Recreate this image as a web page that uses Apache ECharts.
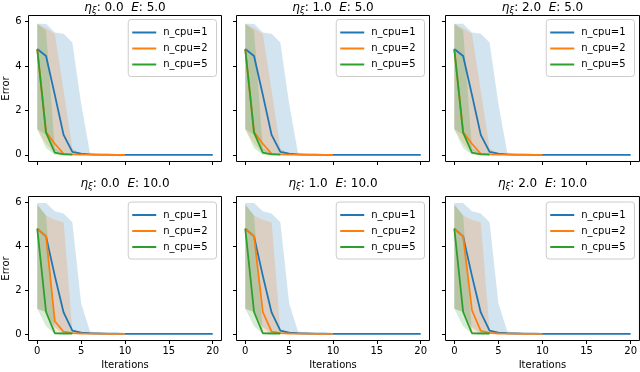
<!DOCTYPE html>
<html>
<head>
<meta charset="utf-8">
<script src="https://cdn.jsdelivr.net/npm/echarts@6/dist/echarts.min.js"></script>
<style>
html, body { margin: 0; padding: 0; background: #fff; }
#main { width: 640px; height: 372px; }
</style>
</head>
<body>
<div id="main"></div>
<script>
var iterations = [0, 1, 2, 3, 4, 5, 6, 7, 8, 9, 10, 11, 12, 13, 14, 15, 16, 17, 18, 19, 20];
var xTicks = [0, 5, 10, 15, 20];
var yTicks = [0, 2, 4, 6];
var etaLabels = ['0.0', '1.0', '2.0'];
var eLabels = ['5.0', '10.0'];
var seriesNames = ['n_cpu=1', 'n_cpu=2', 'n_cpu=5'];

// E = 5.0 (top row)
var blueMeanE5 = [4.76, 4.45, 2.7, 0.9, 0.13, 0.05, 0.02, 0.01, 0.01, 0, 0, 0, 0, 0, 0, 0, 0, 0, 0, 0, 0];
var blueHiE5 = [5.9, 5.9, 5.5, 5.45, 5.05, 2.3, 0.1, 0.05, 0.03, 0.02, 0.01, 0, 0, 0, 0, 0, 0, 0, 0, 0, 0];
var blueLoE5 = [1.15, 0.9, 0.2, 0, 0, 0, 0, 0, 0, 0, 0, 0, 0, 0, 0, 0, 0, 0, 0, 0, 0];
var orangeMeanE5 = [4.76, 1.02, 0.5, 0.05, 0.02, 0.01, 0.01, 0, 0, 0, 0];
var orangeHiE5 = [5.9, 5.7, 5.45, 2.9, 0.3, 0.05, 0.02, 0.01, 0, 0, 0];
var orangeLoE5 = [1.15, 0.5, 0.05, 0, 0, 0, 0, 0, 0, 0, 0];
var greenMeanE5 = [4.76, 1.0, 0.1, 0.02, 0.01];
var greenHiE5 = [5.9, 5.6, 0.3, 0.05, 0.02];
var greenLoE5 = [1.15, 0.3, 0, 0, 0];

// E = 10.0 (bottom row)
var blueMeanE10 = [4.8, 4.45, 2.65, 0.98, 0.15, 0.06, 0.03, 0.02, 0.01, 0.01, 0, 0, 0, 0, 0, 0, 0, 0, 0, 0, 0];
var blueHiE10 = [5.97, 5.97, 5.6, 5.5, 5.1, 1.4, 0.12, 0.05, 0.03, 0.02, 0.01, 0, 0, 0, 0, 0, 0, 0, 0, 0, 0];
var blueLoE10 = [1.15, 1.0, 0.3, 0, 0, 0, 0, 0, 0, 0, 0, 0, 0, 0, 0, 0, 0, 0, 0, 0, 0];
var orangeMeanE10Eta0 = [4.8, 4.45, 0.58, 0.1, 0.04, 0.02, 0.01, 0.01, 0, 0, 0];
var orangeMeanE10Eta1 = [4.8, 4.45, 1.0, 0.1, 0.04, 0.02, 0.01, 0.01, 0, 0, 0];
var orangeMeanE10Eta2 = [4.8, 4.45, 1.08, 0.14, 0.05, 0.02, 0.01, 0.01, 0, 0, 0];
var orangeHiE10 = [5.9, 5.4, 5.2, 5.1, 0.15, 0.05, 0.02, 0.01, 0, 0, 0];
var orangeLoE10 = [1.15, 1.0, 0.1, 0.02, 0, 0, 0, 0, 0, 0, 0];
var greenMeanE10 = [4.8, 1.0, 0.03, 0.02, 0.02];
var greenHiE10 = [5.9, 5.4, 0.1, 0.05, 0.03];
var greenLoE10 = [1.15, 0.35, 0, 0, 0];

var colors = ['#1f77b4', '#ff7f0e', '#2ca02c'];
var bandColors = ['rgba(31,119,180,0.2)', 'rgba(255,127,14,0.2)', 'rgba(44,160,44,0.2)'];
var font = 'DejaVu Sans';

var gridLeft = [28.5, 236.5, 445.5];
var gridWidth = [193, 193, 194];
var gridTop = [15.5, 196.5];
var gridHeight = [146, 144];
var titleY = [7.5, 183.5];
var legendTop = [19.5, 202];

function panelData(r, c) {
    if (r == 0) {
        return {
            mean: [blueMeanE5, orangeMeanE5, greenMeanE5],
            hi: [blueHiE5, orangeHiE5, greenHiE5],
            lo: [blueLoE5, orangeLoE5, greenLoE5]
        };
    }
    var orange = [orangeMeanE10Eta0, orangeMeanE10Eta1, orangeMeanE10Eta2][c];
    return {
        mean: [blueMeanE10, orange, greenMeanE10],
        hi: [blueHiE10, orangeHiE10, greenHiE10],
        lo: [blueLoE10, orangeLoE10, greenLoE10]
    };
}

function pairs(vals) {
    return vals.map(function (v, i) { return [iterations[i], v]; });
}

// fill_between: one polygon from the upper edge and the reversed lower edge
function bandRenderer(lo, hi, color) {
    return function (params, api) {
        if (params.dataIndex !== 0) return;
        var upper = [], lower = [];
        for (var i = 0; i < hi.length; i++) {
            upper.push(api.coord([iterations[i], hi[i]]));
            lower.unshift(api.coord([iterations[i], lo[i]]));
        }
        return {
            type: 'polygon',
            shape: { points: upper.concat(lower) },
            style: { fill: color },
            silent: true
        };
    };
}

var myChart = echarts.init(document.getElementById('main'));

var grids = [], xAxes = [], yAxes = [], series = [], legends = [], titles = [];

for (var r = 0; r < 2; r++) {
    for (var c = 0; c < 3; c++) {
        var p = r * 3 + c;
        var d = panelData(r, c);
        var gx = gridLeft[c], gw = gridWidth[c];

        grids.push({
            left: gx, top: gridTop[r], width: gw, height: gridHeight[r],
            show: true, borderColor: '#000', borderWidth: 1, backgroundColor: 'transparent',
            containLabel: false
        });

        xAxes.push({
            type: 'value', gridIndex: p, min: -1, max: 21,
            splitLine: { show: false },
            axisLine: { show: false, onZero: false },
            axisTick: { show: true, inside: false, length: 3.5, customValues: xTicks, lineStyle: { color: '#000', width: 1 } },
            axisLabel: { show: r == 1, customValues: xTicks, fontFamily: font, fontSize: 10, color: '#000', margin: 6 },
            name: r == 1 ? 'Iterations' : '',
            nameLocation: 'middle', nameGap: 20,
            nameTextStyle: { fontFamily: font, fontSize: 10, color: '#000' }
        });

        yAxes.push({
            type: 'value', gridIndex: p, min: -0.3, max: 6.27,
            splitLine: { show: false },
            axisLine: { show: false, onZero: false },
            axisTick: { show: true, inside: false, length: 3.5, customValues: yTicks, lineStyle: { color: '#000', width: 1 } },
            axisLabel: { show: c == 0, customValues: yTicks, fontFamily: font, fontSize: 10, color: '#000', margin: 7 },
            name: c == 0 ? 'Error' : '',
            nameLocation: 'middle', nameGap: 16, nameRotate: 90,
            nameTextStyle: { fontFamily: font, fontSize: 10, color: '#000' }
        });

        for (var k = 0; k < 3; k++) {
            var lo = d.lo[k], hi = d.hi[k];
            series.push({
                name: 'band' + k, type: 'custom', coordinateSystem: 'cartesian2d',
                xAxisIndex: p, yAxisIndex: p,
                data: hi.map(function (v, i) { return [iterations[i], lo[i], v]; }),
                encode: { x: 0, y: [1, 2] },
                renderItem: bandRenderer(lo, hi, bandColors[k]),
                silent: true, z: 1
            });
        }

        // later n_cpu lines sit on top, as in the original
        for (var k = 0; k < 3; k++) {
            series.push({
                name: seriesNames[k], type: 'line', xAxisIndex: p, yAxisIndex: p,
                data: pairs(d.mean[k]),
                symbol: 'none', color: colors[k],
                itemStyle: { color: colors[k] },
                lineStyle: { color: colors[k], width: 1.8 }, z: 3 + k
            });
        }

        legends.push({
            orient: 'vertical', right: 640 - (gx + gw - 5), top: legendTop[r],
            data: seriesNames, icon: 'rect', itemWidth: 24, itemHeight: 2, itemGap: 4,
            padding: [7, 9, 6, 4], backgroundColor: 'rgba(255,255,255,0.8)',
            borderColor: '#cccccc', borderWidth: 1, borderRadius: 3,
            selectedMode: false, z: 10,
            textStyle: { fontFamily: font, fontSize: 10, color: '#000', lineHeight: 12, padding: [0, 0, 0, 2] }
        });

        titles.push({
            type: 'text', x: gx + gw / 2, y: titleY[r], silent: true,
            style: {
                text: '{i|η}{s|ξ}: ' + etaLabels[c] + '  {i|E}: ' + eLabels[r],
                fontFamily: font, fontSize: 12, fill: '#000',
                align: 'center', verticalAlign: 'middle',
                rich: {
                    i: { fontFamily: font, fontSize: 12, fontStyle: 'italic', fill: '#000' },
                    s: { fontFamily: font, fontSize: 8.5, fontStyle: 'italic', fill: '#000', padding: [6, 0, 0, 0] }
                }
            }
        });
    }
}

var option = {
    animation: false,
    backgroundColor: '#fff',
    grid: grids,
    xAxis: xAxes,
    yAxis: yAxes,
    legend: legends,
    graphic: titles,
    series: series
};

myChart.setOption(option);
</script>
</body>
</html>
